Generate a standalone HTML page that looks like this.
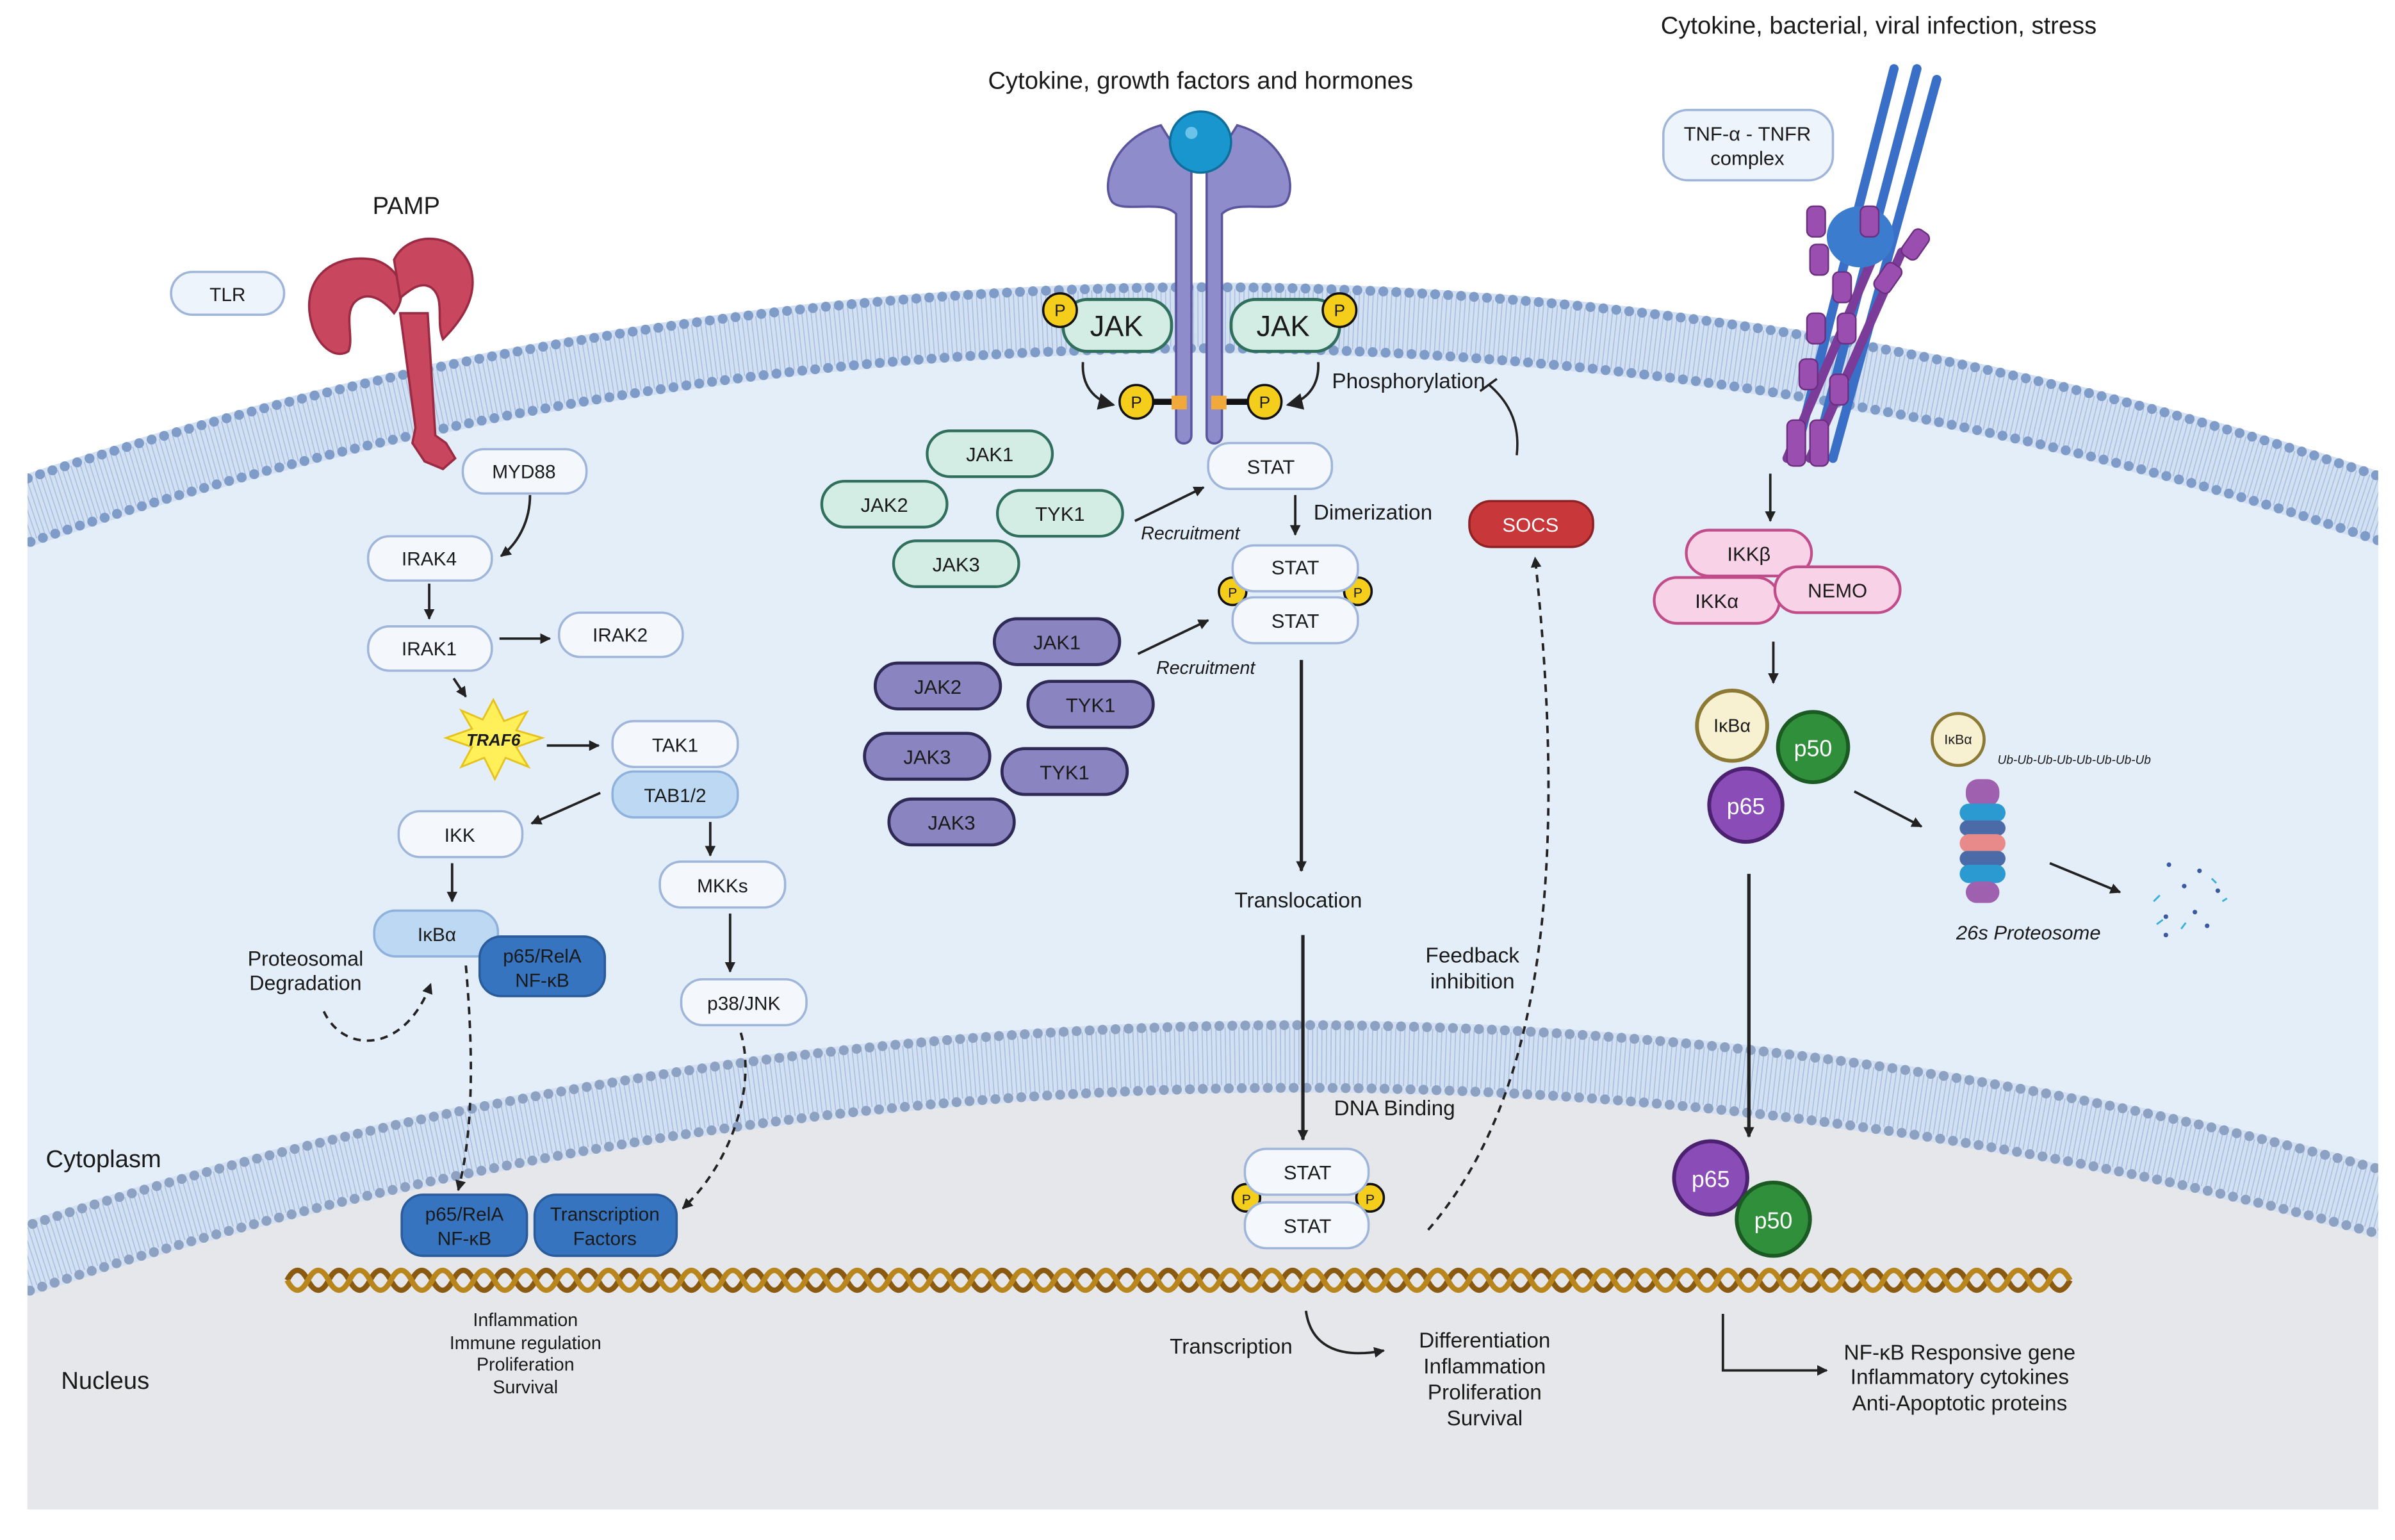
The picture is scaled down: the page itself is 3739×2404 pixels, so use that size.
<!DOCTYPE html>
<html><head><meta charset="utf-8"><style>
html,body{margin:0;padding:0;background:#fff;overflow:hidden;width:3739px;height:2404px}
svg{display:block}
text{font-family:"Liberation Sans",sans-serif;fill:#1a1a1a}
</style></head><body>
<svg width="3739" height="2404" viewBox="0 0 1568 1008" preserveAspectRatio="none" xmlns="http://www.w3.org/2000/svg">
<defs>
<marker id="a" viewBox="0 0 10 10" refX="9" refY="5" markerWidth="7" markerHeight="7" orient="auto-start-reverse" markerUnits="userSpaceOnUse"><path d="M0,0L10,5L0,10z" fill="#222"/></marker>
<marker id="b" viewBox="0 0 10 10" refX="9" refY="5" markerWidth="11" markerHeight="11" orient="auto" markerUnits="userSpaceOnUse"><path d="M0,0L10,5L0,10z" fill="#222"/></marker>
<clipPath id="c"><rect x="18" y="0" width="1539" height="988"/></clipPath>
</defs>
<rect width="1568" height="1008" fill="#fff"/>
<g clip-path="url(#c)">
<circle cx="790" cy="2631" r="2446" fill="#d3e0f2"/>
<circle cx="790" cy="2631" r="2400" fill="#e4eef9"/>
<circle cx="790" cy="2631" r="2423" fill="none" stroke="#a9c0e2" stroke-width="38" stroke-dasharray="0.7 2.3"/>
<circle cx="790" cy="2631" r="2443" fill="none" stroke="#7f9cc8" stroke-width="6.5" stroke-dasharray="0 8.5" stroke-linecap="round"/>
<circle cx="790" cy="2631" r="2403" fill="none" stroke="#7f9cc8" stroke-width="6.5" stroke-dasharray="0 8.5" stroke-linecap="round"/>
<circle cx="850" cy="3375" r="2707" fill="#d3e0f2"/>
<circle cx="850" cy="3375" r="2660" fill="#e6e7ea"/>
<circle cx="850" cy="3375" r="2684" fill="none" stroke="#a9c0e2" stroke-width="38" stroke-dasharray="0.7 2.3"/>
<circle cx="850" cy="3375" r="2704" fill="none" stroke="#8da2c2" stroke-width="6.5" stroke-dasharray="0 8.5" stroke-linecap="round"/>
<circle cx="850" cy="3375" r="2663" fill="none" stroke="#8da2c2" stroke-width="6.5" stroke-dasharray="0 8.5" stroke-linecap="round"/>
</g>
<rect x="0" y="988" width="1568" height="20" fill="#fff"/>

<text x="1230" y="22" font-size="16" text-anchor="middle">Cytokine, bacterial, viral infection, stress</text>
<text x="786" y="58" font-size="16" text-anchor="middle">Cytokine, growth factors and hormones</text>
<text x="266" y="140" font-size="16" text-anchor="middle">PAMP</text>
<text x="30" y="764" font-size="16">Cytoplasm</text>
<text x="40" y="909" font-size="16">Nucleus</text>

<g fill="#c9465f" stroke="#9b2a43" stroke-width="1.5">
<path d="M205,215 C195,185 215,165 245,170 C262,175 268,192 258,205 C250,195 240,190 232,198 C225,206 232,222 228,230 C220,235 210,228 205,215z"/>
<path d="M258,170 C268,150 300,152 308,175 C314,195 300,212 290,222 C285,210 292,195 282,188 C275,184 268,190 262,195z"/>
<path d="M262,205 L280,205 L285,285 L292,290 L298,300 L290,307 L278,302 L270,290 L272,280z"/>
</g>
<g font-size="12.5" text-anchor="middle">
<rect x="112" y="178" width="74" height="28" rx="14" fill="#eef4fb" stroke="#9fb6da" stroke-width="1.5"/><text x="149" y="197">TLR</text>
<rect x="303" y="294" width="81" height="29" rx="14" fill="#f4f8fd" stroke="#9fb6da" stroke-width="1.5"/><text x="343" y="313">MYD88</text>
<rect x="241" y="351" width="81" height="29" rx="14" fill="#f4f8fd" stroke="#9fb6da" stroke-width="1.5"/><text x="281" y="370">IRAK4</text>
<rect x="241" y="410" width="81" height="29" rx="14" fill="#f4f8fd" stroke="#9fb6da" stroke-width="1.5"/><text x="281" y="429">IRAK1</text>
<rect x="366" y="401" width="81" height="29" rx="14" fill="#f4f8fd" stroke="#9fb6da" stroke-width="1.5"/><text x="406" y="420">IRAK2</text>
<rect x="401" y="472" width="82" height="30" rx="14" fill="#f4f8fd" stroke="#9fb6da" stroke-width="1.5"/><text x="442" y="492">TAK1</text>
<rect x="401" y="505" width="82" height="30" rx="14" fill="#bcd8f2" stroke="#8fb2dc" stroke-width="1.5"/><text x="442" y="525">TAB1/2</text>
<rect x="261" y="531" width="81" height="30" rx="14" fill="#f4f8fd" stroke="#9fb6da" stroke-width="1.5"/><text x="301" y="551">IKK</text>
<rect x="432" y="564" width="82" height="30" rx="14" fill="#f4f8fd" stroke="#9fb6da" stroke-width="1.5"/><text x="473" y="584">MKKs</text>
<rect x="245" y="596" width="81" height="30" rx="14" fill="#bcd8f2" stroke="#8fb2dc" stroke-width="1.5"/><text x="286" y="616">IκBα</text>
<rect x="314" y="613" width="82" height="39" rx="14" fill="#3674c0" stroke="#2a5b9a" stroke-width="1.5"/><text x="355" y="630">p65/RelA</text><text x="355" y="646">NF-κB</text>
<rect x="446" y="641" width="82" height="30" rx="14" fill="#f4f8fd" stroke="#9fb6da" stroke-width="1.5"/><text x="487" y="661">p38/JNK</text>
<rect x="263" y="782" width="82" height="40" rx="14" fill="#3674c0" stroke="#2a5b9a" stroke-width="1.5"/><text x="304" y="799">p65/RelA</text><text x="304" y="815">NF-κB</text>
<rect x="350" y="782" width="93" height="40" rx="14" fill="#3674c0" stroke="#2a5b9a" stroke-width="1.5"/><text x="396" y="799">Transcription</text><text x="396" y="815">Factors</text>
</g>
<polygon points="323,458 330,472 345,466 338,478 355,483 338,489 346,502 331,496 324,510 317,496 302,502 309,489 292,483 309,477 302,465 316,471" fill="#fff05a" stroke="#e6c21c" stroke-width="1.2"/>
<text x="323" y="488" font-size="11" font-weight="bold" text-anchor="middle" font-style="italic">TRAF6</text>
<text x="200" y="632" font-size="13.5" text-anchor="middle">Proteosomal</text>
<text x="200" y="648" font-size="13.5" text-anchor="middle">Degradation</text>
<g font-size="12" text-anchor="middle"><text x="344" y="868">Inflammation</text><text x="344" y="883">Immune regulation</text><text x="344" y="897">Proliferation</text><text x="344" y="912">Survival</text></g>

<g stroke="#222" stroke-width="1.6" fill="none" marker-end="url(#a)">
<path d="M347,324 C347,340 340,355 328,364"/>
<path d="M281,382 L281,405"/>
<path d="M327,418 L360,418"/>
<path d="M297,444 L305,456"/>
<path d="M358,488 L392,488"/>
<path d="M393,519 L348,539"/>
<path d="M465,538 L465,560"/>
<path d="M296,565 L296,590"/>
<path d="M478,598 L478,636"/>
<path d="M212,662 C225,690 265,690 282,644" stroke-dasharray="5 4"/>
<path d="M305,632 C310,690 310,740 300,779" stroke-dasharray="5 4"/>
<path d="M485,676 C495,710 480,760 447,791" stroke-dasharray="5 4"/>
</g>

<g transform="translate(188,0) scale(1.044,1) translate(-188,0)">
<path d="M188,838 q6.5,-13 13,0 t13,0 t13,0 t13,0 t13,0 t13,0 t13,0 t13,0 t13,0 t13,0 t13,0 t13,0 t13,0 t13,0 t13,0 t13,0 t13,0 t13,0 t13,0 t13,0 t13,0 t13,0 t13,0 t13,0 t13,0 t13,0 t13,0 t13,0 t13,0 t13,0 t13,0 t13,0 t13,0 t13,0 t13,0 t13,0 t13,0 t13,0 t13,0 t13,0 t13,0 t13,0 t13,0 t13,0 t13,0 t13,0 t13,0 t13,0 t13,0 t13,0 t13,0 t13,0 t13,0 t13,0 t13,0 t13,0 t13,0 t13,0 t13,0 t13,0 t13,0 t13,0 t13,0 t13,0 t13,0 t13,0 t13,0 t13,0 t13,0 t13,0 t13,0 t13,0 t13,0 t13,0 t13,0 t13,0 t13,0 t13,0 t13,0 t13,0 t13,0 t13,0 t13,0 t13,0 t13,0 t13,0" fill="none" stroke="#8a5a10" stroke-width="3.5"/>
<path d="M188,838 q6.5,13 13,0 t13,0 t13,0 t13,0 t13,0 t13,0 t13,0 t13,0 t13,0 t13,0 t13,0 t13,0 t13,0 t13,0 t13,0 t13,0 t13,0 t13,0 t13,0 t13,0 t13,0 t13,0 t13,0 t13,0 t13,0 t13,0 t13,0 t13,0 t13,0 t13,0 t13,0 t13,0 t13,0 t13,0 t13,0 t13,0 t13,0 t13,0 t13,0 t13,0 t13,0 t13,0 t13,0 t13,0 t13,0 t13,0 t13,0 t13,0 t13,0 t13,0 t13,0 t13,0 t13,0 t13,0 t13,0 t13,0 t13,0 t13,0 t13,0 t13,0 t13,0 t13,0 t13,0 t13,0 t13,0 t13,0 t13,0 t13,0 t13,0 t13,0 t13,0 t13,0 t13,0 t13,0 t13,0 t13,0 t13,0 t13,0 t13,0 t13,0 t13,0 t13,0 t13,0 t13,0 t13,0 t13,0" fill="none" stroke="#b8861c" stroke-width="3.5"/>
</g>

<g fill="#8f8ccc" stroke="#5a559c" stroke-width="1.5">
<path d="M760,82 C730,90 720,120 728,132 C735,140 760,130 770,140 L770,285 C770,292 780,292 780,285 L780,110 C775,105 768,95 760,82z"/>
<path d="M810,82 C840,90 850,120 842,132 C835,140 810,130 800,140 L800,285 C800,292 790,292 790,285 L790,110 C795,105 802,95 810,82z"/>
</g>
<circle cx="786" cy="93" r="20" fill="#1a96cf" stroke="#0f6f9c" stroke-width="1.5"/>
<circle cx="780" cy="87" r="4" fill="#6cc3ea"/>
<rect x="767" y="259" width="10" height="9" fill="#f0a93a"/><rect x="793" y="259" width="10" height="9" fill="#f0a93a"/>
<line x1="752" y1="263" x2="767" y2="263" stroke="#111" stroke-width="4"/><line x1="803" y1="263" x2="818" y2="263" stroke="#111" stroke-width="4"/>
<rect x="696" y="196" width="71" height="34" rx="16" fill="#d3ece4" stroke="#2f6f5c" stroke-width="2"/>
<rect x="806" y="196" width="71" height="34" rx="16" fill="#d3ece4" stroke="#2f6f5c" stroke-width="2"/>
<text x="731" y="220" font-size="19" text-anchor="middle">JAK</text><text x="840" y="220" font-size="19" text-anchor="middle">JAK</text>
<g fill="#f5cd1b" stroke="#111" stroke-width="1.5">
<circle cx="694" cy="203" r="11"/><circle cx="877" cy="203" r="11"/><circle cx="744" cy="263" r="11"/><circle cx="828" cy="263" r="11"/>
<circle cx="807" cy="387" r="9"/><circle cx="889" cy="387" r="9"/><circle cx="816" cy="784" r="9"/><circle cx="897" cy="784" r="9"/>
</g>
<g font-size="11" text-anchor="middle"><text x="694" y="207">P</text><text x="877" y="207">P</text><text x="744" y="267">P</text><text x="828" y="267">P</text>
<text x="807" y="391" font-size="9">P</text><text x="889" y="391" font-size="9">P</text><text x="816" y="788" font-size="9">P</text><text x="897" y="788" font-size="9">P</text></g>
<g stroke="#222" stroke-width="1.6" fill="none" marker-end="url(#b)">
<path d="M709,237 C708,252 716,262 729,265"/>
<path d="M863,237 C864,252 856,262 843,265"/>
</g>
<text x="872" y="254" font-size="14">Phosphorylation</text>

<g font-size="13" text-anchor="middle">
<rect x="791" y="290" width="81" height="30" rx="14" fill="#f4f8fd" stroke="#9fb6da" stroke-width="1.5"/><text x="832" y="310">STAT</text>
<rect x="807" y="357" width="82" height="30" rx="14" fill="#f4f8fd" stroke="#9fb6da" stroke-width="1.5"/><text x="848" y="376">STAT</text>
<rect x="807" y="391" width="82" height="30" rx="14" fill="#f4f8fd" stroke="#9fb6da" stroke-width="1.5"/><text x="848" y="411">STAT</text>
<rect x="815" y="752" width="81" height="30" rx="14" fill="#f4f8fd" stroke="#9fb6da" stroke-width="1.5"/><text x="856" y="772">STAT</text>
<rect x="815" y="787" width="81" height="30" rx="14" fill="#f4f8fd" stroke="#9fb6da" stroke-width="1.5"/><text x="856" y="807">STAT</text>
</g>
<text x="860" y="340" font-size="14">Dimerization</text>
<g font-size="13" text-anchor="middle">
<g fill="#d3ece4" stroke="#2f6f5c" stroke-width="1.8">
<rect x="607" y="282" width="82" height="30" rx="15"/><rect x="538" y="315" width="82" height="30" rx="15"/><rect x="653" y="321" width="82" height="30" rx="15"/><rect x="585" y="354" width="82" height="30" rx="15"/>
</g>
<text x="648" y="302">JAK1</text><text x="579" y="335">JAK2</text><text x="694" y="341">TYK1</text><text x="626" y="374">JAK3</text>
<g fill="#8a84c0" stroke="#2e2a55" stroke-width="2">
<rect x="651" y="405" width="82" height="30" rx="15"/><rect x="573" y="434" width="82" height="30" rx="15"/><rect x="673" y="446" width="82" height="30" rx="15"/><rect x="566" y="480" width="82" height="30" rx="15"/><rect x="656" y="490" width="82" height="30" rx="15"/><rect x="582" y="523" width="82" height="30" rx="15"/>
</g>
<text x="692" y="425">JAK1</text><text x="614" y="454">JAK2</text><text x="714" y="466">TYK1</text><text x="607" y="500">JAK3</text><text x="697" y="510">TYK1</text><text x="623" y="543">JAK3</text>
</g>
<g font-size="12" font-style="italic"><text x="747" y="353">Recruitment</text><text x="757" y="441">Recruitment</text></g>
<g stroke="#222" stroke-width="1.6" fill="none" marker-end="url(#a)">
<path d="M743,341 L788,319"/>
<path d="M745,428 L791,406"/>
<path d="M848,324 L848,350"/>
<path d="M852,432 L852,570" stroke-width="2.2"/>
<path d="M853,612 L853,746" stroke-width="2.2"/>
<path d="M855,858 C858,880 875,890 906,884"/>
<path d="M935,805 C1000,730 1030,600 1005,365" stroke-dasharray="5 4"/>
<path d="M1145,572 L1145,744" stroke-width="2.2"/>
<path d="M1128,860 L1128,897 L1196,897"/>
<path d="M1159,310 L1159,341"/>
<path d="M1161,420 L1161,447"/>
<path d="M1214,518 L1258,541"/>
<path d="M1342,565 L1388,584"/>
</g>
<path d="M993,298 C995,280 990,265 975,252 M969,256 L980,248" stroke="#222" stroke-width="1.5" fill="none"/>
<text x="850" y="594" font-size="14" text-anchor="middle">Translocation</text>
<text x="913" y="730" font-size="14" text-anchor="middle">DNA Binding</text>
<text x="964" y="630" font-size="14" text-anchor="middle">Feedback</text><text x="964" y="647" font-size="14" text-anchor="middle">inhibition</text>
<rect x="962" y="328" width="81" height="30" rx="14" fill="#c8383b" stroke="#8e2225" stroke-width="1.5"/><text x="1002" y="348" font-size="13" text-anchor="middle" style="fill:#fff">SOCS</text>
<text x="806" y="886" font-size="14" text-anchor="middle">Transcription</text>
<g font-size="14" text-anchor="middle"><text x="972" y="882">Differentiation</text><text x="972" y="899">Inflammation</text><text x="972" y="916">Proliferation</text><text x="972" y="933">Survival</text></g>

<g stroke-linecap="round" fill="none">
<path d="M1240,45 L1175,300 M1255,45 L1188,300 M1268,52 L1200,300" stroke="#3a6fc8" stroke-width="6"/>
<path d="M1230,160 L1170,300 M1245,165 L1185,300" stroke="#7a3c98" stroke-width="6"/>
</g>
<ellipse cx="1218" cy="155" rx="22" ry="20" fill="#3b7ccf"/>
<g fill="#9a4fb0" stroke="#6b2f80" stroke-width="1">
<rect x="1183" y="135" width="12" height="20" rx="4"/><rect x="1218" y="135" width="12" height="20" rx="4"/><rect x="1248" y="150" width="12" height="20" rx="4" transform="rotate(35 1254 160)"/><rect x="1185" y="160" width="12" height="20" rx="4"/><rect x="1200" y="178" width="12" height="20" rx="4"/><rect x="1230" y="172" width="12" height="20" rx="4" transform="rotate(35 1236 182)"/><rect x="1183" y="205" width="12" height="20" rx="4"/><rect x="1203" y="205" width="12" height="20" rx="4"/><rect x="1178" y="235" width="12" height="20" rx="4"/><rect x="1198" y="245" width="12" height="20" rx="4"/><rect x="1170" y="275" width="12" height="30" rx="4"/><rect x="1185" y="275" width="12" height="30" rx="4"/>
</g>
<rect x="1089" y="72" width="111" height="46" rx="16" fill="#eef4fb" stroke="#9fb6da" stroke-width="1.5"/>
<text x="1144" y="92" font-size="13" text-anchor="middle">TNF-α - TNFR</text><text x="1144" y="108" font-size="13" text-anchor="middle">complex</text>
<g fill="#f8d2e6" stroke="#c04d8a" stroke-width="1.8">
<rect x="1104" y="347" width="82" height="30" rx="15"/><rect x="1083" y="378" width="82" height="30" rx="15"/><rect x="1162" y="371" width="82" height="30" rx="15"/>
</g>
<g font-size="13" text-anchor="middle"><text x="1145" y="367">IKKβ</text><text x="1124" y="398">IKKα</text><text x="1203" y="391">NEMO</text></g>
<circle cx="1134" cy="475" r="23" fill="#f7f1d2" stroke="#8c7a34" stroke-width="2.5"/>
<circle cx="1282" cy="484" r="17" fill="#f7f1d2" stroke="#8c7a34" stroke-width="2"/>
<circle cx="1187" cy="489" r="23" fill="#2f8f3a" stroke="#1b5a22" stroke-width="2.5"/>
<circle cx="1143" cy="527" r="24" fill="#8a4cb6" stroke="#4c2170" stroke-width="2.5"/>
<circle cx="1120" cy="771" r="24" fill="#8a4cb6" stroke="#4c2170" stroke-width="2.5"/>
<circle cx="1161" cy="798" r="24" fill="#2f8f3a" stroke="#1b5a22" stroke-width="2.5"/>
<g text-anchor="middle"><text x="1134" y="479" font-size="12">IκBα</text><text x="1282" y="487" font-size="9">IκBα</text>
<text x="1187" y="495" font-size="15" style="fill:#fff">p50</text><text x="1143" y="533" font-size="15" style="fill:#fff">p65</text>
<text x="1120" y="777" font-size="15" style="fill:#fff">p65</text><text x="1161" y="804" font-size="15" style="fill:#fff">p50</text></g>
<text x="1358" y="500" font-size="8" font-style="italic" text-anchor="middle">Ub-Ub-Ub-Ub-Ub-Ub-Ub-Ub</text>
<g>
<rect x="1287" y="510" width="22" height="18" rx="8" fill="#a060b0"/>
<rect x="1283" y="526" width="30" height="12" rx="6" fill="#2b9ad0"/>
<rect x="1283" y="537" width="30" height="10" rx="5" fill="#4a6aa8"/>
<rect x="1283" y="546" width="30" height="12" rx="6" fill="#e88a8a"/>
<rect x="1283" y="557" width="30" height="10" rx="5" fill="#4a6aa8"/>
<rect x="1283" y="566" width="30" height="12" rx="6" fill="#2b9ad0"/>
<rect x="1287" y="577" width="22" height="14" rx="7" fill="#a060b0"/>
</g>
<text x="1328" y="615" font-size="13" font-style="italic" text-anchor="middle">26s Proteosome</text>
<g fill="#3a5aa0"><circle cx="1420" cy="566" r="1.5"/><circle cx="1440" cy="570" r="1.5"/><circle cx="1430" cy="580" r="1.5"/><circle cx="1452" cy="583" r="1.5"/><circle cx="1418" cy="600" r="1.5"/><circle cx="1437" cy="597" r="1.5"/><circle cx="1445" cy="606" r="1.5"/><circle cx="1418" cy="612" r="1.5"/></g>
<g stroke="#3bb0d8" stroke-width="1.2" fill="none"><path d="M1410,590 l4,-4"/><path d="M1448,575 l3,3"/><path d="M1412,605 l4,-3"/><path d="M1428,608 l3,-4"/><path d="M1455,590 l3,-2"/></g>
<g font-size="14" text-anchor="middle"><text x="1283" y="890">NF-κB Responsive gene</text><text x="1283" y="906">Inflammatory cytokines</text><text x="1283" y="923">Anti-Apoptotic proteins</text></g>
</svg>
</body></html>
